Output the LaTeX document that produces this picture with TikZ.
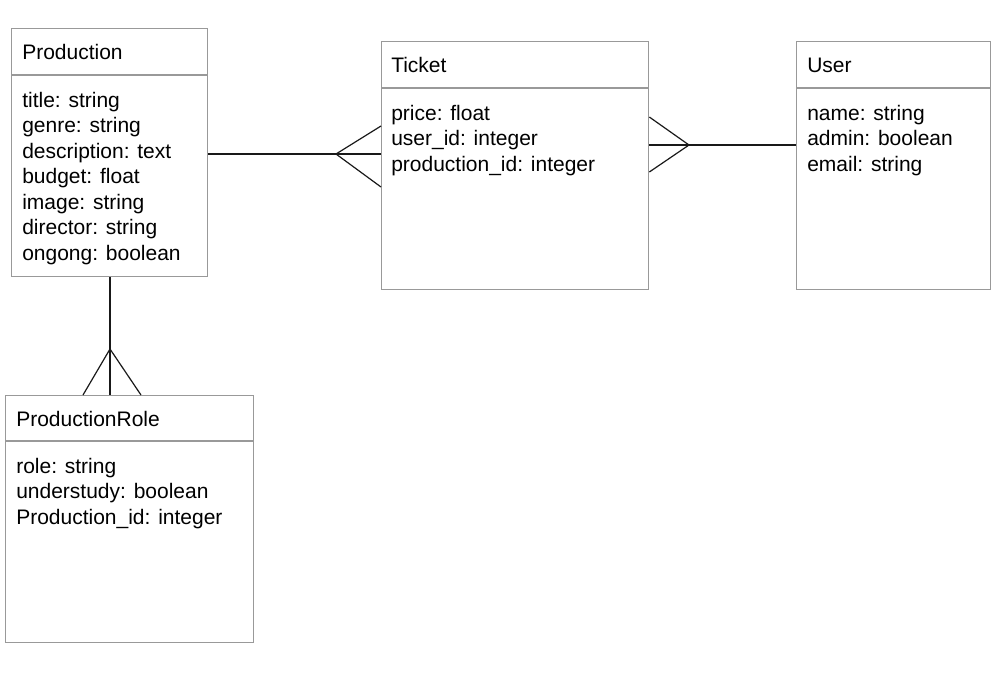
\documentclass[tikz,border=0pt]{standalone}
\usepackage{fontspec}
\setmainfont{Liberation Sans}

\tikzset{
  entity/.style={draw=black!40, line width=1pt, anchor=north west, inner sep=0pt},
  divider/.style={draw=black!40, line width=1pt},
  heading/.style={anchor=base west, inner sep=0pt, font=\fontsize{15.75}{19.1}\selectfont},
  fields/.style={anchor=base west, inner sep=0pt, align=left, font=\fontsize{15.75}{19.1}\selectfont},
  link/.style={line width=0.9pt, black!90},
}

\begin{document}
\begin{tikzpicture}[x=0.75pt, y=-0.75pt]
    \useasboundingbox (0,0) rectangle (996,676);

    % Production
    \node[entity, minimum width=147pt, minimum height=186pt] (production) at (11,28) {};
    \draw[divider] (11,75) -- (207,75);
    \node[heading] (production_title) at (22,59) {Production};
    % fields: placed at the baseline of the last line
    \node[fields] (production_fields) at (22,260) {title: string\\genre: string\\description: text\\budget: float\\image: string\\director: string\\ongong: boolean};

    % Ticket
    \node[entity, minimum width=200.25pt, minimum height=186pt] (ticket) at (381,41) {};
    \draw[divider] (381,88) -- (648,88);
    \node[heading] (ticket_title) at (391,72) {Ticket};
    \node[fields] (ticket_fields) at (391,171) {price: float\\user\_id: integer\\production\_id: integer};

    % User
    \node[entity, minimum width=145.5pt, minimum height=186pt] (user) at (796,41) {};
    \draw[divider] (796,88) -- (990,88);
    \node[heading] (user_title) at (807,72) {User};
    \node[fields] (user_fields) at (807,171) {name: string\\admin: boolean\\email: string};

    % ProductionRole
    \node[entity, minimum width=186pt, minimum height=185.25pt] (role) at (5,395) {};
    \draw[divider] (5,441) -- (253,441);
    \node[heading] (role_title) at (16,426) {ProductionRole};
    \node[fields] (role_fields) at (16,524) {role: string\\understudy: boolean\\Production\_id: integer};

    % Production -- Ticket, many end at Ticket
    \coordinate (pt_foot) at (336,154);
    \draw[link] (production.east |- pt_foot) -- (ticket.west |- pt_foot);
    \draw[link] (ticket.west |- 0,126) -- (pt_foot) -- (ticket.west |- 0,187);

    % Ticket -- User, many end at Ticket
    \coordinate (tu_foot) at (689,145);
    \draw[link] (ticket.east |- tu_foot) -- (user.west |- tu_foot);
    \draw[link] (ticket.east |- 0,117) -- (tu_foot) -- (ticket.east |- 0,172);

    % Production -- ProductionRole, many end at ProductionRole
    \coordinate (pr_foot) at (110,349);
    \draw[link] (production.south -| pr_foot) -- (role.north -| pr_foot);
    \draw[link] (role.north -| 83,0) -- (pr_foot) -- (role.north -| 141,0);
\end{tikzpicture}
\end{document}
